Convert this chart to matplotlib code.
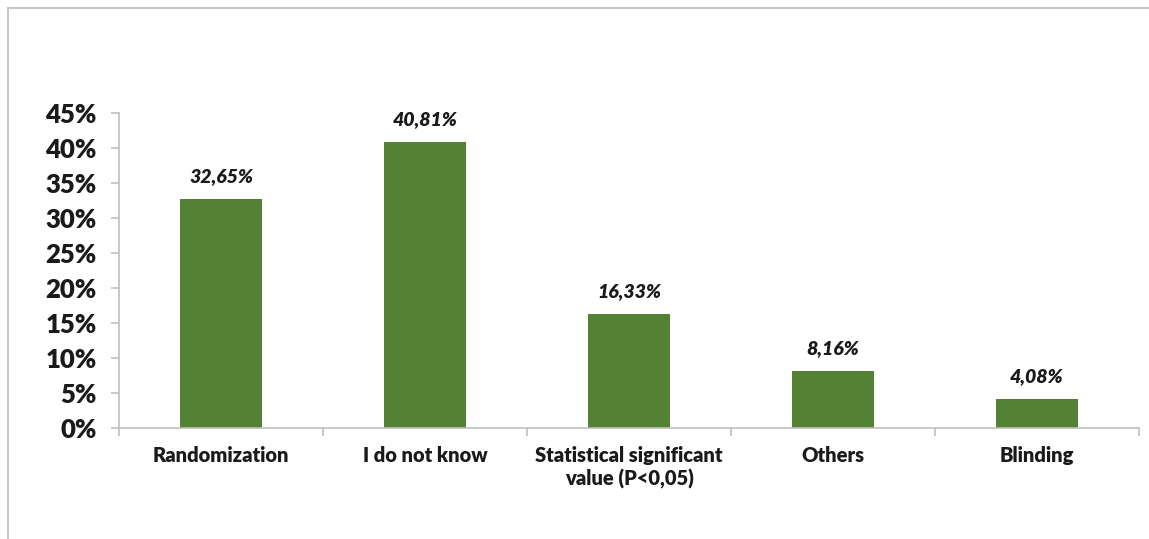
import matplotlib

matplotlib.use("Agg")
import matplotlib.pyplot as plt
from matplotlib.lines import Line2D
from matplotlib.ticker import FuncFormatter, MultipleLocator

plt.rcParams["font.family"] = ["Lato", "DejaVu Sans"]

categories = ["Randomization", "I do not know", "Statistical significant\nvalue (P<0,05)", "Others", "Blinding"]
shares = [32.65, 40.81, 16.33, 8.16, 4.08]

BAR = "#548235"
AXIS = "#BFBFBF"
INK = "#1a1a1a"

fig = plt.figure(figsize=(11.49, 5.39), dpi=100)
ax = fig.add_axes([119 / 1149, 111 / 539, 1020 / 1149, 315 / 539])

x = range(len(categories))
ax.bar(x, shares, width=0.4, color=BAR)

for xi, v in zip(x, shares):
    ax.annotate(f"{v:.2f}%".replace(".", ","), (xi, v), xytext=(0, 10), textcoords="offset points",
                ha="center", va="bottom", fontsize=14, fontweight="heavy", fontstyle="italic", color=INK)

ax.set_xlim(-0.5, len(categories) - 0.5)
ax.set_ylim(0, 45)
ax.yaxis.set_major_locator(MultipleLocator(5))
ax.yaxis.set_major_formatter(FuncFormatter(lambda v, _: f"{v:.0f}%"))

# category labels centred, tick marks between categories
ax.set_xticks(list(x))
ax.set_xticklabels(categories, fontsize=14.5, fontweight="heavy", color=INK, linespacing=1.25)
ax.tick_params(axis="x", length=0, pad=13)
ax.set_xticks([i - 0.5 for i in range(len(categories) + 1)], minor=True)
ax.tick_params(axis="x", which="minor", length=6, color=AXIS, width=1.2, direction="out")
ax.tick_params(axis="y", length=6, color=AXIS, width=1.2, labelsize=18.5, pad=10)
for lbl in ax.get_yticklabels():
    lbl.set_fontweight("heavy")
    lbl.set_color(INK)

for side in ("top", "right"):
    ax.spines[side].set_visible(False)
for side in ("left", "bottom"):
    ax.spines[side].set_color(AXIS)
    ax.spines[side].set_linewidth(1.2)

# outer chart frame (top and left edges)
fig.add_artist(Line2D([8 / 1149, 8 / 1149], [0, 1 - 8 / 539], transform=fig.transFigure, color="#C8C8C8", lw=1.5))
fig.add_artist(Line2D([8 / 1149, 1], [1 - 8 / 539, 1 - 8 / 539], transform=fig.transFigure, color="#C8C8C8", lw=1.5))

fig.savefig("out.png", dpi=100, facecolor="white")
